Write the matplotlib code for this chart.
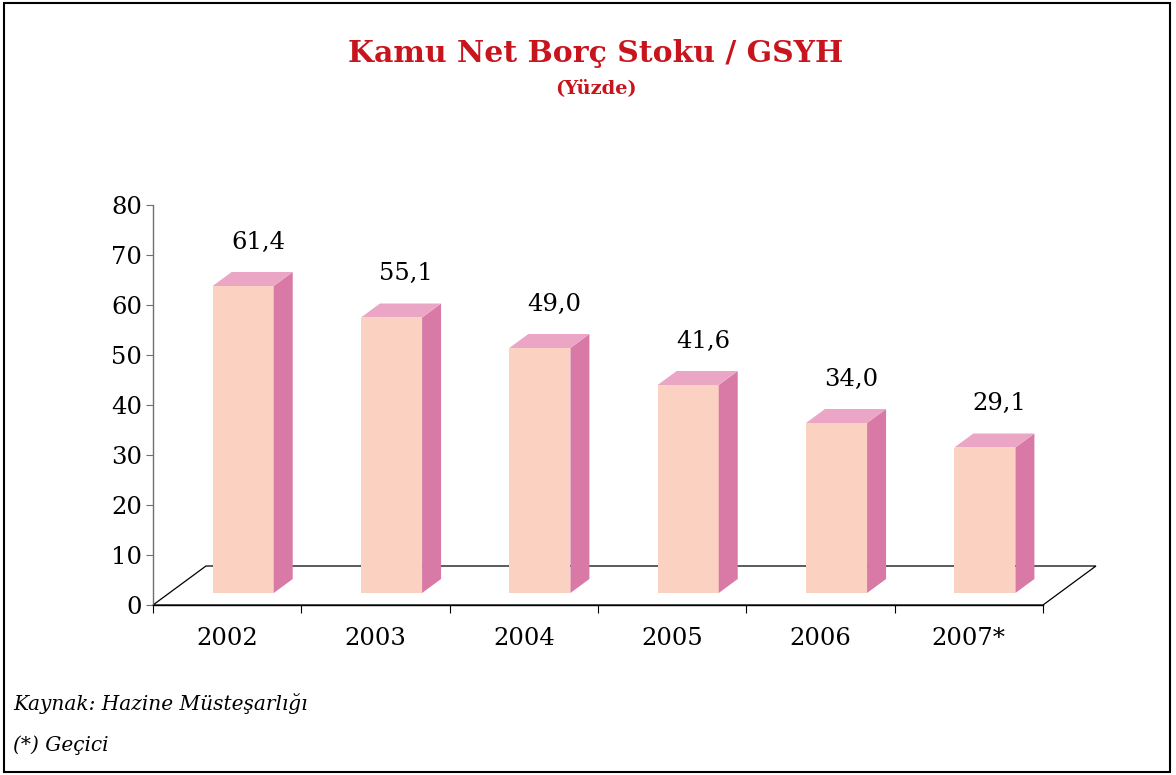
import numpy as np
import matplotlib.pyplot as plt
from matplotlib.patches import Polygon, Rectangle

years = ['2002', '2003', '2004', '2005', '2006', '2007*']
values = [61.4, 55.1, 49.0, 41.6, 34.0, 29.1]
yticks = [0, 10, 20, 30, 40, 50, 60, 70, 80]

front_col = '#fbd2c2'
side_col = '#d979a6'
top_col = '#eba6c6'
title_col = '#c8151d'

# pseudo 3d geometry (category units / value units)
floor_dx, floor_dy = 0.357, 7.8
front_dx, front_dy = 0.108, 2.4
bar_dx, bar_dy = 0.128, 2.8
half_w = 0.206

fig = plt.figure(figsize=(11.76, 7.75), dpi=100)
ax = fig.add_axes([153/1176, 1-605/775, 890/1176, 400/775])
ax.set_xlim(0, 6)
ax.set_ylim(0, 80)

# floor
floor = Polygon([(0, 0), (floor_dx, floor_dy), (6+floor_dx, floor_dy), (6, 0)],
                closed=True, facecolor='white', edgecolor='black', lw=0.9,
                zorder=1, clip_on=False)
ax.add_patch(floor)

for i, v in enumerate(values):
    xl = i + 0.5 + front_dx - half_w
    xr = i + 0.5 + front_dx + half_w
    yb = front_dy
    yt = front_dy + v
    ax.add_patch(Polygon([(xl, yb), (xr, yb), (xr, yt), (xl, yt)],
                         facecolor=front_col, edgecolor='none', zorder=3, clip_on=False))
    ax.add_patch(Polygon([(xr, yb), (xr+bar_dx, yb+bar_dy), (xr+bar_dx, yt+bar_dy), (xr, yt)],
                         facecolor=side_col, edgecolor='none', zorder=3, clip_on=False))
    ax.add_patch(Polygon([(xl, yt), (xr, yt), (xr+bar_dx, yt+bar_dy), (xl+bar_dx, yt+bar_dy)],
                         facecolor=top_col, edgecolor='none', zorder=3, clip_on=False))
    ax.text(i + 0.5 + front_dx + 0.1, yt + 8.8, f'{v:.1f}'.replace('.', ','),
            ha='center', va='center', fontsize=17.5, family='DejaVu Serif')

for s in ['top', 'right']:
    ax.spines[s].set_visible(False)
ax.spines['left'].set_color('#707070')
ax.spines['bottom'].set_color('black')
ax.spines['left'].set_linewidth(1.0)
ax.spines['bottom'].set_linewidth(1.0)

ax.set_yticks(yticks)
ax.set_yticklabels([str(t) for t in yticks], fontsize=17.5, family='DejaVu Serif')
ax.tick_params(axis='y', length=5, color='#707070', pad=3)

ax.set_xticks(range(7))
ax.set_xticklabels([])
ax.tick_params(axis='x', which='major', length=6, color='black')
ax.set_xticks(np.arange(6) + 0.5, minor=True)
ax.set_xticklabels(years, minor=True, fontsize=17.5, family='DejaVu Serif')
ax.tick_params(axis='x', which='minor', length=0, pad=16)

fig.text(596/1176, 1-53/775, 'Kamu Net Borç Stoku / GSYH', ha='center', va='center',
         fontsize=21.5, fontweight='bold', color=title_col, family='DejaVu Serif')
fig.text(596/1176, 1-88/775, '(Yüzde)', ha='center', va='center',
         fontsize=14, fontweight='bold', color=title_col, family='DejaVu Serif')

fig.text(13/1176, 1-703/775, 'Kaynak: Hazine Müsteşarlığı', ha='left', va='center',
         fontsize=14.5, style='italic', family='DejaVu Serif')
fig.text(13/1176, 1-745/775, '(*) Geçici', ha='left', va='center',
         fontsize=14.5, style='italic', family='DejaVu Serif')

fig.patches.append(Rectangle((4/1176, 1-772/775), 1166/1176, 769/775, transform=fig.transFigure,
                             fill=False, edgecolor='black', lw=1.5))

plt.savefig('out.png', dpi=100)
